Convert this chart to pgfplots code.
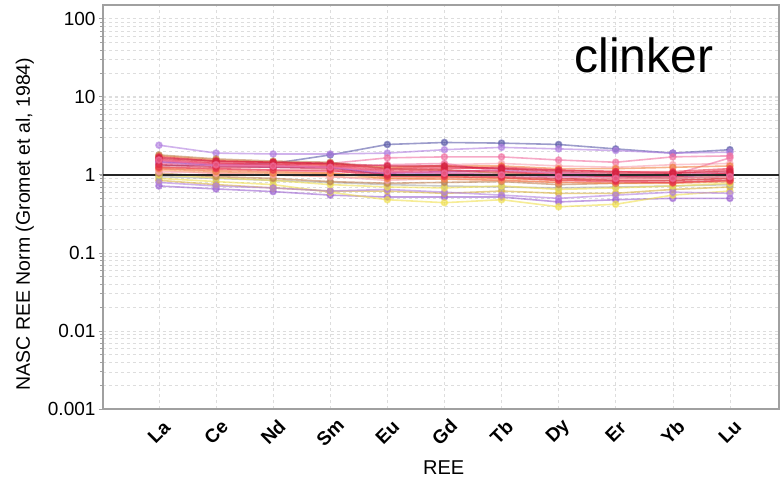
\documentclass[border=0pt]{standalone}
\usepackage{pgfplots}
\usepackage{pgfplotstable}
\pgfplotsset{compat=1.18}
\usepackage{fontspec}
\setmainfont{Liberation Sans}

\definecolor{cA}{HTML}{5A5AA8}
\definecolor{cB}{HTML}{B07EE0}
\definecolor{cC}{HTML}{9A60D0}
\definecolor{cD}{HTML}{C040A0}
\definecolor{cE}{HTML}{F070A0}
\definecolor{cF}{HTML}{E8304A}
\definecolor{cG}{HTML}{D02040}
\definecolor{cH}{HTML}{F08040}
\definecolor{cI}{HTML}{F8A060}
\definecolor{cJ}{HTML}{C08050}
\definecolor{cK}{HTML}{D8B040}
\definecolor{cL}{HTML}{F0E050}
\definecolor{cM}{HTML}{F8A0B0}
\definecolor{cN}{HTML}{A8A8A8}
\definecolor{gridc}{HTML}{DDDDDD}
\definecolor{axc}{HTML}{A0A0A0}

% columns: x, then series s1..s28 ; rows: La Ce Nd Sm Eu Gd Tb Dy Er Yb Lu
\pgfplotstableread{
x  s1   s2   s3   s4   s5   s6   s7   s8   s9   s10  s11  s12  s13  s14  s15  s16  s17  s18  s19  s20  s21  s22  s23  s24  s25  s26  s27  s28
0  1.30 2.40 1.45 1.20 1.70 1.55 1.35 1.50 1.75 1.80 1.25 1.10 1.60 1.30 1.45 0.95 0.85 0.90 0.72 0.80 1.00 1.05 1.15 1.65 1.25 1.40 1.20 1.55
1  1.35 1.90 1.40 1.15 1.50 1.40 1.25 1.35 1.55 1.60 1.15 1.05 1.45 1.20 1.30 0.90 0.75 0.82 0.66 0.72 0.92 0.95 1.05 1.50 1.20 1.30 1.10 1.35
2  1.40 1.85 1.35 1.10 1.45 1.35 1.25 1.30 1.45 1.50 1.10 1.00 1.40 1.15 1.25 0.85 0.68 0.75 0.61 0.68 0.85 0.90 1.00 1.45 1.15 1.30 1.05 1.30
3  1.80 1.85 1.40 1.10 1.40 1.30 1.20 1.25 1.35 1.45 1.05 0.95 1.35 1.10 1.25 0.80 0.62 0.60 0.55 0.62 0.75 0.82 0.95 1.40 1.15 1.25 1.05 1.25
4  2.45 1.90 1.65 1.05 1.20 1.10 1.00 1.05 1.25 1.20 0.95 0.85 1.15 1.20 1.00 0.75 0.62 0.48 0.52 0.65 0.70 0.78 0.90 1.30 0.95 1.35 0.90 1.10
5  2.60 2.10 1.70 1.10 1.25 1.15 1.00 1.10 1.30 1.15 0.95 0.90 1.20 1.35 1.05 0.72 0.58 0.44 0.52 0.60 0.68 0.80 0.92 1.30 0.95 1.40 0.88 1.05
6  2.55 2.25 1.70 1.05 1.20 1.10 0.95 1.15 1.30 1.05 0.90 0.85 1.25 1.40 1.00 0.70 0.62 0.48 0.52 0.55 0.72 0.82 0.90 1.20 0.92 1.10 0.85 1.00
7  2.45 2.15 1.55 1.00 1.15 1.00 0.90 1.05 1.20 1.00 0.85 0.80 1.15 1.30 0.95 0.68 0.58 0.39 0.45 0.50 0.65 0.75 0.88 1.10 0.85 1.05 0.80 0.95
8  2.15 2.05 1.45 0.95 1.10 0.95 0.85 1.00 1.20 0.95 0.85 0.80 1.10 1.25 0.95 0.70 0.58 0.42 0.48 0.55 0.68 0.78 0.90 1.05 0.82 1.00 0.78 0.90
9  1.90 1.90 1.70 1.00 1.05 0.95 0.85 1.00 1.25 0.90 0.85 0.80 1.10 1.35 0.95 0.72 0.65 0.55 0.50 0.60 0.72 0.80 0.92 1.05 0.80 1.00 0.78 0.90
10 2.10 1.95 1.75 1.65 1.15 1.05 0.90 1.05 1.30 0.95 0.90 0.85 1.20 1.40 1.00 0.75 0.70 0.62 0.50 0.58 0.78 0.85 1.00 1.10 0.85 1.05 0.82 0.95
}\ree

\pgfplotsset{
  ser/.style={color=#1, line width=1.6pt, opacity=0.6, mark=*, mark size=3pt, mark options={solid}},
}

\begin{document}
\begin{tikzpicture}
\begin{axis}[
  at={(0,0)}, anchor=south west,
  scale only axis, width=676pt, height=404pt,
  xmin=-0.98, xmax=10.86,
  ymode=log, ymin=0.001, ymax=150,
  axis line style={draw=axc, line width=1.2pt},
  xtick={0,...,10},
  xticklabels={La,Ce,Nd,Sm,Eu,Gd,Tb,Dy,Er,Yb,Lu},
  xtick style={draw=none},
  xticklabel style={font=\fontsize{19}{20}\selectfont\bfseries, rotate=45, anchor=center, xshift=-16.3pt, yshift=-16.3pt, inner sep=0pt},
  ytick={0.001,0.01,0.1,1,10,100},
  yticklabels={0.001,0.01,0.1,1,10,100},
  yticklabel style={font=\fontsize{19}{20}\selectfont},
  ytick align=outside, tick pos=left,
  major tick length=4pt, minor tick length=3pt,
  ytick style={draw=axc, line width=0.8pt},
  minor y tick style={draw=axc, line width=0.6pt},
  xmajorgrids, ymajorgrids, yminorgrids,
  major grid style={draw=gridc, dashed, line width=0.6pt},
  minor grid style={draw=gridc, dashed, line width=0.5pt},
  xlabel={REE},
  xlabel style={font=\fontsize{20}{22}\selectfont, at={(axis description cs:0.504,-0.146)}, anchor=center},
  ylabel={NASC REE Norm (Gromet et al, 1984)},
  ylabel style={font=\fontsize{19.5}{21}\selectfont, at={(axis description cs:-0.1156,0.458)}, anchor=center, rotate=0},
  clip=false,
]
\addplot[ser=cC] table[x=x,y=s19]{\ree};
\addplot[ser=cL] table[x=x,y=s18]{\ree};
\addplot[ser=cK] table[x=x,y=s17]{\ree};
\addplot[ser=cB] table[x=x,y=s20]{\ree};
\addplot[ser=cN] table[x=x,y=s16]{\ree};
\addplot[ser=cL] table[x=x,y=s21]{\ree};
\addplot[ser=cJ] table[x=x,y=s22]{\ree};
\addplot[ser=cI] table[x=x,y=s23]{\ree};
\addplot[ser=cA] table[x=x,y=s1]{\ree};
\addplot[ser=cB] table[x=x,y=s2]{\ree};
\addplot[ser=cE] table[x=x,y=s3]{\ree};
\addplot[ser=cM] table[x=x,y=s14]{\ree};
\addplot[ser=cE] table[x=x,y=s4]{\ree};
\addplot[ser=cH] table[x=x,y=s9]{\ree};
\addplot[ser=cJ] table[x=x,y=s10]{\ree};
\addplot[ser=cI] table[x=x,y=s11]{\ree};
\addplot[ser=cM] table[x=x,y=s12]{\ree};
\addplot[ser=cD] table[x=x,y=s8]{\ree};
\addplot[ser=cC] table[x=x,y=s15]{\ree};
\addplot[ser=cE] table[x=x,y=s26]{\ree};
\addplot[ser=cH] table[x=x,y=s27]{\ree};
\addplot[ser=cF] table[x=x,y=s5]{\ree};
\addplot[ser=cF] table[x=x,y=s6]{\ree};
\addplot[ser=cG] table[x=x,y=s7]{\ree};
\addplot[ser=cF] table[x=x,y=s13]{\ree};
\addplot[ser=cG] table[x=x,y=s24]{\ree};
\addplot[ser=cF] table[x=x,y=s25]{\ree};
\addplot[ser=cE] table[x=x,y=s28]{\ree};
\addplot[black!85, line width=2.5pt, forget plot] coordinates {(-0.98,1) (10.86,1)};
\node[font=\fontsize{48}{50}\selectfont, anchor=center] at (axis description cs:0.80,0.876) {clinker};
\end{axis}
\pgfresetboundingbox
\path (-103pt,-74pt) rectangle (677pt,409pt);
\end{tikzpicture}
\end{document}
